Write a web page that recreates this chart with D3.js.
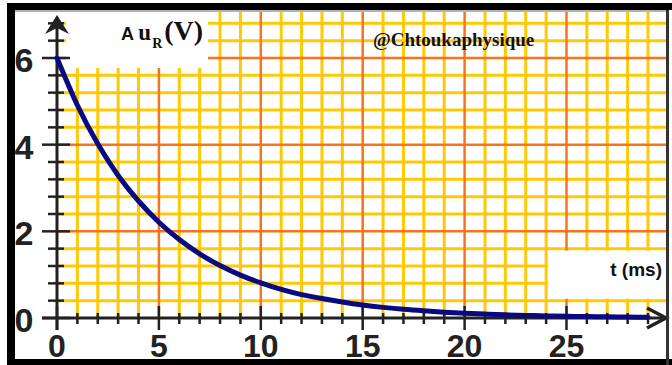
<!DOCTYPE html>
<html>
<head>
<meta charset="utf-8">
<script src="https://cdn.jsdelivr.net/npm/d3@7"></script>
<style>
  html, body { margin: 0; padding: 0; background: #fff; }
  svg { display: block; }
</style>
</head>
<body>
<svg id="chart" width="672" height="365"></svg>
<script>
// ---- data ----
const timeMs = [0,1,2,3,4,5,6,7,8,9,10,11,12,13,14,15,16,17,18,19,20,21,22,23,24,25,26,27,28,29];
const uR     = [6.00,4.91,4.02,3.29,2.70,2.21,1.81,1.48,1.21,0.99,0.81,0.66,0.54,0.45,0.37,0.30,0.245,0.20,0.165,0.135,0.11,0.09,0.073,0.06,0.049,0.04,0.033,0.027,0.022,0.018];
const xTickLabels = ["0","5","10","15","20","25"];
const yTickLabels = ["0","2","4","6"];
const yLabel = "u";
const ySub = "R";
const yUnit = "(V)";
const xLabel = "t (ms)";
const watermark = "@Chtoukaphysique";

const svg = d3.select("#chart");
const x = d3.scaleLinear().domain([0, 30]).range([57, 668.4]);
const y = d3.scaleLinear().domain([0, 7.2]).range([318, 6]);

const gridTop = 12, gridRight = 666;
const yellow = "#ffc906", orange = "#f7741a", axisCol = "#222";

// grid
const vMinor = d3.range(1, 30);
const hMinor = d3.range(1, 18).map(i => +(i * 0.4).toFixed(1));
const isMajorV = t => t % 5 === 0;
const isMajorH = v => Math.abs(v / 2 - Math.round(v / 2)) < 1e-6;

const grid = svg.append("g");
grid.selectAll("line.hy").data(hMinor.filter(v => !isMajorH(v))).join("line")
  .attr("x1", x(0)).attr("x2", gridRight).attr("y1", d => y(d)).attr("y2", d => y(d))
  .attr("stroke", yellow).attr("stroke-width", 3);
grid.selectAll("line.vy").data(vMinor.filter(t => !isMajorV(t))).join("line")
  .attr("x1", d => x(d)).attr("x2", d => x(d)).attr("y1", y(0)).attr("y2", gridTop)
  .attr("stroke", yellow).attr("stroke-width", 3);
grid.selectAll("line.ho").data(hMinor.filter(isMajorH)).join("line")
  .attr("x1", x(0)).attr("x2", gridRight).attr("y1", d => y(d)).attr("y2", d => y(d))
  .attr("stroke", orange).attr("stroke-width", 2.5);
grid.selectAll("line.vo").data(vMinor.filter(isMajorV)).join("line")
  .attr("x1", d => x(d)).attr("x2", d => x(d)).attr("y1", y(0)).attr("y2", gridTop)
  .attr("stroke", orange).attr("stroke-width", 2.5);

// white label boxes
svg.append("rect").attr("x", 66).attr("y", gridTop).attr("width", 142).attr("height", 56).attr("fill", "#fff");
svg.append("rect").attr("x", x(24) + 2).attr("y", y(1.6) + 2).attr("width", gridRight - x(24) - 2).attr("height", y(0.4) - y(1.6) - 4).attr("fill", "#fff");

// axis lines
svg.append("line").attr("x1", 42).attr("x2", 662).attr("y1", y(0)).attr("y2", y(0))
  .attr("stroke", axisCol).attr("stroke-width", 3);
svg.append("line").attr("x1", x(0)).attr("x2", x(0)).attr("y1", 330).attr("y2", 20)
  .attr("stroke", axisCol).attr("stroke-width", 3);

// ticks
const xTicks = d3.range(0, 30);
svg.selectAll("line.xt").data(xTicks).join("line")
  .attr("x1", d => x(d)).attr("x2", d => x(d))
  .attr("y1", d => isMajorV(d) ? 306 : 313).attr("y2", d => isMajorV(d) ? 330 : 324)
  .attr("stroke", axisCol).attr("stroke-width", 2.5);
const yTicks = d3.range(0, 18).map(i => +(i * 0.4).toFixed(1));
svg.selectAll("line.yt").data(yTicks).join("line")
  .attr("y1", d => y(d)).attr("y2", d => y(d))
  .attr("x1", d => isMajorH(d) ? 42 : 48).attr("x2", d => isMajorH(d) ? 70 : 64)
  .attr("stroke", axisCol).attr("stroke-width", 2.5);

// curve
const line = d3.line().x((d, i) => x(timeMs[i])).y(d => y(d)).curve(d3.curveNatural);
svg.append("path").datum(uR).attr("d", line)
  .attr("fill", "none").attr("stroke", "#0a0a80").attr("stroke-width", 5).attr("stroke-linecap", "round");

// arrows
svg.append("path")
  .attr("d", `M${x(0)},15 L${x(0) + 12},34 L${x(0)},28 L${x(0) - 12},34 Z`)
  .attr("fill", axisCol);
svg.append("path")
  .attr("d", `M647,308 L666,${y(0)} L647,328`)
  .attr("fill", "none").attr("stroke", axisCol).attr("stroke-width", 3.5).attr("stroke-linejoin", "miter");

// tick labels
svg.selectAll("text.xl").data(xTickLabels).join("text")
  .attr("x", d => x(+d)).attr("y", 357)
  .attr("text-anchor", "middle")
  .attr("font-family", "Liberation Sans, Arial, sans-serif").attr("font-weight", "bold")
  .attr("font-size", 32).attr("fill", "#222").text(d => d);
svg.selectAll("text.yl").data(yTickLabels).join("text")
  .attr("x", 24).attr("y", d => y(+d) + 14)
  .attr("text-anchor", "middle")
  .attr("font-family", "Liberation Sans, Arial, sans-serif").attr("font-weight", "bold")
  .attr("font-size", 34).attr("fill", "#222").text(d => d);

// axis titles
const t1 = svg.append("text").attr("x", 121).attr("y", 40).attr("fill", "#111");
t1.append("tspan").attr("font-family", "Liberation Sans, Arial, sans-serif").attr("font-weight", "bold").attr("font-size", 18).text("A ");
t1.append("tspan").attr("font-family", "Liberation Serif, Times New Roman, serif").attr("font-weight", "bold").attr("font-size", 23).text(yLabel);
t1.append("tspan").attr("font-family", "Liberation Serif, Times New Roman, serif").attr("font-weight", "bold").attr("font-size", 14).attr("dy", 8).attr("dx", 1).text(ySub);
t1.append("tspan").attr("font-family", "Liberation Serif, Times New Roman, serif").attr("font-weight", "bold").attr("font-size", 28).attr("dy", -8).attr("dx", 2).text(yUnit);

svg.append("text").attr("x", 662).attr("y", 276).attr("text-anchor", "end")
  .attr("font-family", "Liberation Sans, Arial, sans-serif").attr("font-weight", "bold")
  .attr("font-size", 19).attr("fill", "#111").text(xLabel);

svg.append("text").attr("x", 373).attr("y", 46)
  .attr("font-family", "Liberation Serif, Times New Roman, serif").attr("font-weight", "bold")
  .attr("font-size", 19).attr("fill", "#111").text(watermark);

// frame
svg.append("rect").attr("x", 7).attr("y", 3).attr("width", 665).attr("height", 7).attr("fill", "#000");
svg.append("line").attr("x1", 15).attr("x2", 668).attr("y1", 11).attr("y2", 11).attr("stroke", "#666").attr("stroke-width", 1);
svg.append("rect").attr("x", 7).attr("y", 3).attr("width", 8).attr("height", 362).attr("fill", "#000");
svg.append("rect").attr("x", 7).attr("y", 359).attr("width", 665).attr("height", 6).attr("fill", "#000");
svg.append("rect").attr("x", 666).attr("y", 10).attr("width", 3).attr("height", 355).attr("fill", "#333");
</script>
</body>
</html>
